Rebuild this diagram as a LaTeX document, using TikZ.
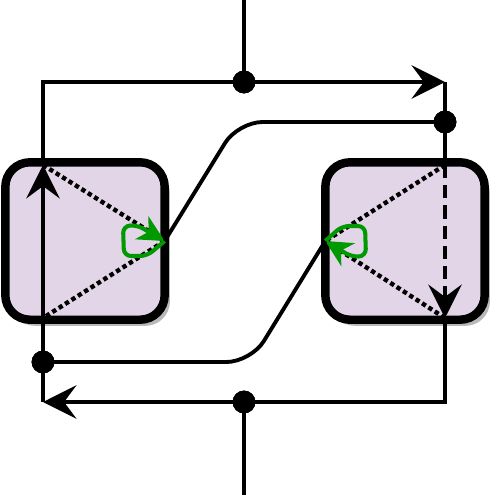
\documentclass[tikz,border=0pt]{standalone}
\usetikzlibrary{arrows.meta,shadows}
\definecolor{boxfill}{HTML}{E1D5E7}
\definecolor{loopgreen}{HTML}{009900}
\begin{document}
\begin{tikzpicture}[x=0.02cm,y=-0.02cm,
  wire/.style={line width=2.2pt},
  tip/.style={-{Stealth[length=19pt,width=19pt,inset=7pt]}},
  port/.style={draw,line width=4.8pt,fill=boxfill,rounded corners=14pt,
    minimum width=90.7pt,minimum height=89.6pt,inner sep=0pt,outer sep=0pt,
    drop shadow={shadow xshift=3pt,shadow yshift=-3.5pt,fill=black!28,opacity=1}},
  dot/.style={circle,fill=black,inner sep=0pt,minimum size=13pt},
  dotline/.style={line width=2.5pt,dash pattern=on 2.5pt off 1.8pt},
  dashline/.style={line width=2.4pt,dash pattern=on 7.5pt off 4pt},
  gloop/.style={draw=loopgreen,line width=2.3pt,rounded corners=4pt,
    -{Stealth[length=15pt,width=15pt,inset=4.5pt]}}
]
\useasboundingbox (0,0) rectangle (495,495);
% ports
\node[port] (L) at (85,241) {};
\node[port] (R) at (405,241) {};
% coordinates
\coordinate (topend) at (244,0);
\coordinate (botend) at (244,495);
\coordinate (TL) at (43,82);
\coordinate (TR) at (445,82);
\coordinate (BL) at (43,402);
\coordinate (BR) at (445,402);
\coordinate (Ltop) at (43,165);
\coordinate (Lbot) at (43,318);
\coordinate (Rtop) at (445,165);
\coordinate (Rbot) at (445,318);
% junction dots
\node[dot] (T) at (244,82) {};
\node[dot] (B) at (244,402) {};
\node[dot] (R1) at (445,122) {};
\node[dot] (L1) at (43,362) {};
% dotted internal paths
\draw[dotline] (Ltop) -- (L.east) -- (Lbot);
\draw[dotline] (Rtop) -- (R.west) -- (Rbot);
% green loops
\draw[gloop] (L.east) -- (147,256) -- (124,256) -- (123,226) -- (137,225) -- (L.east);
\draw[gloop] (R.west) -- (342,226) -- (365,226) -- (366,256) -- (352,257) -- (R.west);
% outer loop
\draw[wire,tip] (Ltop) -- (TL) -- (TR);
\draw[wire] (TR) -- (Rtop);
\draw[dashline,tip] (Rtop) -- (Rbot);
\draw[wire,tip] (Rbot) -- (BR) -- (BL);
\draw[wire,tip] (BL) -- (Ltop);
% stubs
\draw[wire] (topend) -- (T.center);
\draw[wire] (B.center) -- (botend);
% crossing connectors
\draw[wire,rounded corners=14pt] (L.east) -- (238,122) -- (R1.center);
\draw[wire,rounded corners=14pt] (R.west) -- (251,362) -- (L1.center);
% redraw dots on top
\node[dot] at (T) {};
\node[dot] at (B) {};
\node[dot] at (R1) {};
\node[dot] at (L1) {};
\end{tikzpicture}
\end{document}
